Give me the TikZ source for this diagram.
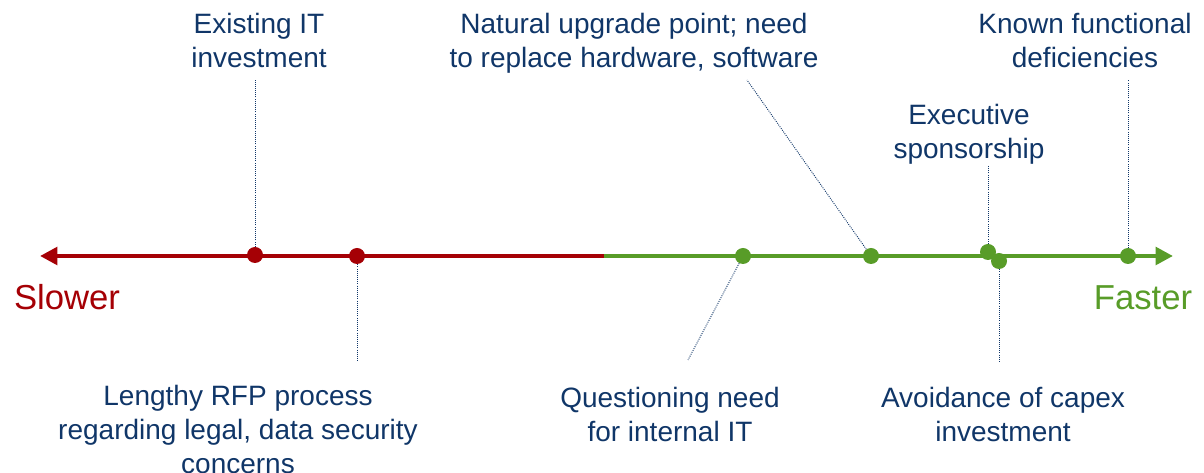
\documentclass[tikz,border=0pt]{standalone}
\usepackage{fontspec}
\setmainfont{Liberation Sans}
\usetikzlibrary{arrows.meta}
\definecolor{slowred}{RGB}{165,0,5}
\definecolor{fastgreen}{RGB}{88,156,40}
\definecolor{labelblue}{RGB}{16,54,104}
\begin{document}
\begin{tikzpicture}[x=0.75pt,y=-0.75pt,
  axis/.style={line width=3.2pt},
  dot/.style={circle,inner sep=0pt,minimum size=12pt},
  leader/.style={labelblue,line width=0.7pt,dash pattern=on 0.7pt off 0.9pt},
  lbl/.style={text=labelblue,align=center,inner sep=0pt,anchor=base,
    font=\fontsize{21}{25.5}\selectfont},
  endlbl/.style={inner sep=0pt,anchor=base,font=\fontsize{26}{30}\selectfont}]
\useasboundingbox (0,0) rectangle (1204,473);

% the two halves of the time line
\coordinate (mid) at (604,256);
\coordinate (left) at (40,256);
\coordinate (right) at (1173,256);
\draw[axis,slowred,-{Triangle[length=13pt,width=13pt]}] (mid) -- (left);
\draw[axis,fastgreen,-{Triangle[length=13pt,width=13pt]}] (mid) -- (right);

% factors on the line
\node[dot,fill=slowred] (d1) at (255,255) {};
\node[dot,fill=slowred] (d2) at (357,256) {};
\node[dot,fill=fastgreen] (d3) at (743,256) {};
\node[dot,fill=fastgreen] (d4) at (871,256) {};
\node[dot,fill=fastgreen] (d5) at (988,252) {};
\node[dot,fill=fastgreen] (d6) at (999,261) {};
\node[dot,fill=fastgreen] (d7) at (1128,256) {};

% labels (anchored at the baseline of their last line)
\node[lbl] (t1) at (259,68) {Existing IT\\investment};
\node[lbl] (t2) at (238,474) {Lengthy RFP process\\regarding legal, data security\\concerns};
\node[lbl] (t3) at (670,442) {Questioning need\\for internal IT};
\node[lbl] (t4) at (634,68) {Natural upgrade point; need\\to replace hardware, software};
\node[lbl] (t5) at (969,159) {Executive\\sponsorship};
\node[lbl] (t6) at (1003,442) {Avoidance of capex\\investment};
\node[lbl] (t7) at (1085,68) {Known functional\\deficiencies};

\node[endlbl,text=slowred] (slow) at (67,310) {Slower};
\node[endlbl,text=fastgreen] (fast) at (1143,310) {Faster};

% leader lines
\coordinate (e1) at (255,80);
\coordinate (e2) at (357,362);
\coordinate (e3) at (688,360);
\coordinate (e4) at (747,80);
\coordinate (e5) at (988,165);
\coordinate (e6) at (999,362);
\coordinate (e7) at (1128,80);
\draw[leader] (d1) -- (e1);
\draw[leader] (d2) -- (e2);
\draw[leader] (d3) -- (e3);
\draw[leader] (d4) -- (e4);
\draw[leader] (d5) -- (e5);
\draw[leader] (d6) -- (e6);
\draw[leader] (d7) -- (e7);
\end{tikzpicture}
\end{document}
